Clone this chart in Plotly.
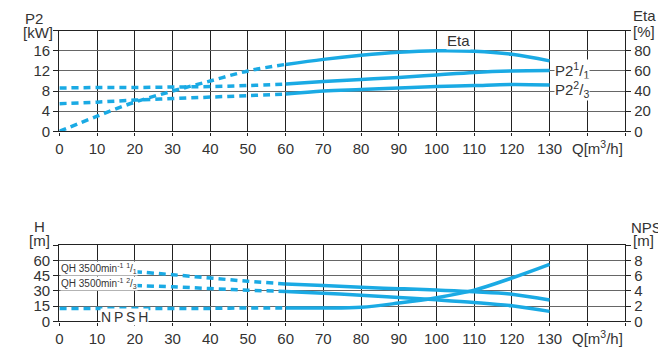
import plotly.graph_objects as go

# flow Q [m3/h]
q = [0, 10, 20, 30, 40, 50, 60, 70, 80, 90, 100, 110, 120, 130]
q_h = [20, 30, 40, 50, 60, 70, 80, 90, 100, 110, 120, 130]

# upper chart: power P2 [kW] and efficiency Eta [%]
p2_11 = [8.6, 8.7, 8.7, 8.8, 8.9, 9.1, 9.4, 9.9, 10.3, 10.7, 11.2, 11.7, 12.0, 12.1]
p2_23 = [5.5, 5.8, 6.2, 6.5, 6.8, 7.1, 7.4, 8.0, 8.3, 8.6, 8.9, 9.1, 9.3, 9.2]
eta = [0, 15, 29, 40, 50, 60, 66.5, 71.5, 75.5, 78.5, 80, 79.5, 76.5, 70]

# lower chart: head H [m] and NPSH [m]
qh_11 = [49, 46, 42.7, 39.5, 36.9, 35.3, 33.5, 32.2, 30.8, 29.2, 26.8, 21.0]
qh_23 = [35.3, 34, 32.3, 30.7, 29.4, 27.6, 25.8, 23.5, 21.2, 18.6, 15.3, 9.8]
npsh = [1.7, 1.7, 1.7, 1.7, 1.7, 1.75, 1.75, 1.75, 1.85, 2.4, 3.1, 4.1, 5.7, 7.5]

x_ticks = list(range(0, 160, 10))
x_text = [str(v) if v <= 130 else '' for v in x_ticks]

BLUE = '#1aaae4'
TXT = '#333333'
FONT = 'Liberation Sans, Arial, sans-serif'
W, H = 658, 349
SPLIT = 60


def px_x(v):
    return v / W


def px_y(v):
    return 1 - v / H


def add_curve(fig, xs, ys, xaxis, yaxis):
    ''' dashed up to SPLIT, solid after '''
    xd = [a for a in xs if a <= SPLIT]
    yd = ys[:len(xd)]
    xs_ = [a for a in xs if a >= SPLIT]
    ys_ = ys[len(xs) - len(xs_):]
    fig.add_trace(go.Scatter(x=xd, y=yd, mode='lines', xaxis=xaxis, yaxis=yaxis,
                             line=dict(color=BLUE, width=3.5, dash='7px,5px', shape='spline'),
                             hoverinfo='skip', showlegend=False))
    fig.add_trace(go.Scatter(x=xs_, y=ys_, mode='lines', xaxis=xaxis, yaxis=yaxis,
                             line=dict(color=BLUE, width=3.5, shape='spline'),
                             hoverinfo='skip', showlegend=False))


fig = go.Figure()
add_curve(fig, q, eta, 'x', 'y2')
add_curve(fig, q, p2_11, 'x', 'y')
add_curve(fig, q, p2_23, 'x', 'y')
add_curve(fig, q_h, qh_11, 'x2', 'y3')
add_curve(fig, q_h, qh_23, 'x2', 'y3')
add_curve(fig, q, npsh, 'x2', 'y4')

xdom = [px_x(59.4), px_x(625)]
top_dom = [px_y(131.3), px_y(30.7)]
bot_dom = [px_y(321.3), px_y(245.3)]

xcommon = dict(range=[0, 150], tickvals=x_ticks, ticktext=x_text, showgrid=True,
               gridcolor='#222222', gridwidth=1.2, showline=True, linecolor='#222222',
               linewidth=1.4, mirror=True, ticks='outside', ticklen=3, tickcolor='#222222',
               tickfont=dict(size=15, color=TXT, family=FONT), zeroline=False,
               domain=xdom, fixedrange=True, automargin=False)
ycommon = dict(showgrid=True, gridcolor='#666666', gridwidth=1.2, showline=True,
               linecolor='#222222', linewidth=1.4, ticks='outside', ticklen=5,
               tickcolor='#222222', tickfont=dict(size=15, color=TXT, family=FONT),
               zeroline=False, fixedrange=True, automargin=False)

fig.update_layout(
    width=W, height=H, margin=dict(l=0, r=0, t=0, b=0, autoexpand=False),
    paper_bgcolor='white', plot_bgcolor='white',
    font=dict(family=FONT, color=TXT),
    xaxis=dict(**xcommon, anchor='y'),
    yaxis=dict(**ycommon, domain=top_dom, range=[0, 20], tickvals=[0, 4, 8, 12, 16, 20],
               ticktext=['0', '4', '8', '12', '16', ''], anchor='x'),
    yaxis2=dict(**{**ycommon, 'showgrid': False}, overlaying='y', side='right', range=[0, 100],
                tickvals=[0, 20, 40, 60, 80, 100], ticktext=['0', '20', '40', '60', '80', ''],
                anchor='x'),
    xaxis2=dict(**xcommon, anchor='y3'),
    yaxis3=dict(**ycommon, domain=bot_dom, range=[0, 75], tickvals=[0, 15, 30, 45, 60, 75],
                ticktext=['0', '15', '30', '45', '60', ''], anchor='x2'),
    yaxis4=dict(**{**ycommon, 'showgrid': False}, overlaying='y3', side='right', range=[0, 10],
                tickvals=[0, 2, 4, 6, 8, 10], ticktext=['0', '2', '4', '6', '8', ''],
                anchor='x2'),
)


def note(text, x, y, size=15, xanchor='center', bg=None, **kw):
    fig.add_annotation(text=text, x=px_x(x), y=px_y(y), xref='paper', yref='paper',
                       showarrow=False, xanchor=xanchor, yanchor='middle',
                       font=dict(size=size, color=TXT, family=FONT),
                       bgcolor=bg, borderpad=0, **kw)


# axis titles
note('P2', 44, 18, xanchor='right')
note('[kW]', 54, 32, xanchor='right')
note('Eta', 632, 15, xanchor='left')
note('[%]', 632, 31, xanchor='left')
note('H', 46, 226, xanchor='right')
note('[m]', 51, 241, xanchor='right')
note('NPSH', 630, 227, xanchor='left')
note('[m]', 632, 241, xanchor='left')
note('Q[m<sup>3</sup>/h]', 597, 147)
note('Q[m<sup>3</sup>/h]', 597, 337)

# curve labels
note('Eta', 458, 41, bg='white')
note('P2<sup>1</sup>/<sub>1</sub>', 554, 70, xanchor='left', bg='white')
note('P2<sup>2</sup>/<sub>3</sub>', 554, 90, xanchor='left', bg='white')
note('QH 3500min<sup>-1</sup> <sup>1</sup>/<sub>1</sub>', 60, 268, size=10, xanchor='left', bg='white')
note('QH 3500min<sup>-1</sup> <sup>2</sup>/<sub>3</sub>', 60, 283.5, size=10, xanchor='left', bg='white')
note('N\u2009P\u2009S\u2009H', 124, 317, size=14, bg='white')

fig.write_html("out.html", post_script="document.body.style.margin='0';",
               config={'displayModeBar': False})
